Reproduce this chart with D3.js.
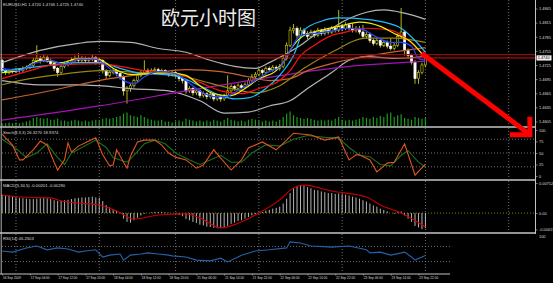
<!DOCTYPE html>
<html>
<head>
<meta charset="utf-8">
<script src="https://cdn.jsdelivr.net/npm/d3@7"></script>
<style>
  html, body { margin: 0; padding: 0; background: #000; }
  svg { display: block; }
</style>
</head>
<body>
<svg id="chart" width="553" height="283"></svg>
<script>
// ---------- data ----------
const symbolTitle = 'EURUSD,H1  1.4720 1.4746 1.4725 1.4740';
const chartTitle = '欧元小时图';

const timeLabels = ['16 Sep 2009', '17 Sep 04:00', '17 Sep 12:00', '17 Sep 20:00', '18 Sep 04:00',
  '18 Sep 12:00', '18 Sep 20:00', '21 Sep 06:00', '21 Sep 14:00', '21 Sep 22:00', '22 Sep 06:00',
  '22 Sep 14:00', '22 Sep 22:00', '23 Sep 06:00', '23 Sep 14:00', '23 Sep 22:00'];
const timeLabelBars = [0, 8, 16, 24, 32, 40, 48, 56, 64, 72, 80, 88, 96, 104, 112, 120];
const dayBreakBars = [4, 28, 50, 74, 98, 122, 146];

const firstOpen = 1.4735;
const closes = [
  1.4713,1.4709,1.4713,1.4711,1.4715,1.4713,1.4718,1.4720,1.4724,1.4735,
  1.4739,1.4735,1.4741,1.4735,1.4728,1.4718,1.4709,1.4722,1.4726,1.4730,
  1.4735,1.4739,1.4735,1.4739,1.4735,1.4737,1.4741,1.4730,1.4735,1.4713,
  1.4703,1.4709,1.4713,1.4707,1.4700,1.4670,1.4675,1.4681,1.4692,1.4703,
  1.4709,1.4713,1.4709,1.4713,1.4715,1.4711,1.4713,1.4709,1.4705,1.4709,
  1.4703,1.4696,1.4692,1.4670,1.4675,1.4666,1.4670,1.4660,1.4664,1.4658,
  1.4662,1.4653,1.4658,1.4653,1.4660,1.4670,1.4679,1.4675,1.4681,1.4677,
  1.4683,1.4692,1.4700,1.4705,1.4713,1.4709,1.4718,1.4715,1.4720,1.4718,
  1.4722,1.4739,1.4767,1.4799,1.4803,1.4788,1.4799,1.4792,1.4786,1.4795,
  1.4788,1.4799,1.4792,1.4799,1.4795,1.4803,1.4799,1.4807,1.4803,1.4810,
  1.4803,1.4799,1.4803,1.4795,1.4786,1.4790,1.4777,1.4771,1.4777,1.4767,
  1.4773,1.4765,1.4760,1.4767,1.4786,1.4795,1.4756,1.4745,1.4730,1.4696,
  1.4709,1.4725,1.4740];
const highs = [
  1.4738,1.4716,1.4717,1.4716,1.4719,1.4718,1.4722,1.4724,1.4728,1.4740,
  1.4767,1.4744,1.4748,1.4745,1.4739,1.4731,1.4721,1.4726,1.4731,1.4735,
  1.4741,1.4745,1.4750,1.4744,1.4743,1.4742,1.4746,1.4744,1.4740,1.4737,
  1.4716,1.4713,1.4718,1.4716,1.4711,1.4703,1.4680,1.4686,1.4696,1.4707,
  1.4714,1.4735,1.4718,1.4718,1.4720,1.4719,1.4717,1.4716,1.4712,1.4713,
  1.4712,1.4706,1.4700,1.4695,1.4680,1.4678,1.4675,1.4673,1.4669,1.4667,
  1.4667,1.4665,1.4662,1.4661,1.4664,1.4703,1.4684,1.4683,1.4686,1.4685,
  1.4688,1.4697,1.4706,1.4710,1.4718,1.4717,1.4722,1.4722,1.4725,1.4724,
  1.4727,1.4744,1.4773,1.4806,1.4812,1.4807,1.4805,1.4803,1.4797,1.4800,
  1.4799,1.4804,1.4802,1.4805,1.4803,1.4808,1.4807,1.4842,1.4812,1.4816,
  1.4814,1.4814,1.4808,1.4808,1.4810,1.4795,1.4794,1.4781,1.4782,1.4780,
  1.4778,1.4777,1.4782,1.4772,1.4792,1.4846,1.4799,1.4760,1.4749,1.4735,
  1.4714,1.4730,1.4746];
const lows = [
  1.4708,1.4704,1.4705,1.4707,1.4708,1.4709,1.4710,1.4714,1.4716,1.4721,
  1.4731,1.4728,1.4731,1.4730,1.4724,1.4712,1.4700,1.4705,1.4718,1.4722,
  1.4727,1.4731,1.4730,1.4731,1.4729,1.4730,1.4733,1.4726,1.4726,1.4707,
  1.4696,1.4699,1.4705,1.4701,1.4694,1.4660,1.4643,1.4668,1.4677,1.4688,
  1.4699,1.4704,1.4703,1.4705,1.4708,1.4706,1.4707,1.4704,1.4700,1.4701,
  1.4698,1.4690,1.4686,1.4664,1.4666,1.4660,1.4661,1.4655,1.4656,1.4652,
  1.4654,1.4648,1.4649,1.4647,1.4649,1.4656,1.4666,1.4670,1.4671,1.4673,
  1.4674,1.4679,1.4688,1.4696,1.4701,1.4704,1.4705,1.4710,1.4711,1.4713,
  1.4713,1.4718,1.4735,1.4763,1.4792,1.4782,1.4784,1.4786,1.4780,1.4782,
  1.4783,1.4785,1.4787,1.4788,1.4790,1.4791,1.4794,1.4795,1.4797,1.4799,
  1.4798,1.4794,1.4794,1.4790,1.4782,1.4781,1.4772,1.4766,1.4767,1.4762,
  1.4763,1.4760,1.4756,1.4756,1.4763,1.4782,1.4745,1.4739,1.4726,1.4685,
  1.4685,1.4705,1.4720];
const volumes = [
  300,300,400,300,400,300,400,500,600,
  900,1000,900,800,900,700,
  700,800,600,600,500,600,700,600,
  500,600,500,600,700,600,
  800,900,800,900,1000,1100,
  1400,1500,1200,1100,1000,1200,1000,
  800,700,600,600,700,500,500,400,
  500,600,500,800,700,600,500,600,500,
  600,500,700,600,500,700,900,700,
  600,500,600,500,700,800,700,600,500,600,500,600,500,700,
  1000,1400,1600,1200,1000,900,800,900,800,700,
  600,700,600,700,600,800,1000,700,600,700,600,700,800,
  1000,900,800,1000,900,1100,1000,1400,1500,1000,
  1200,1300,900,800,700,1000,900,800,900];

// moving averages / bands: [bar, price]
const maBlue = [[0,1.4718],[5,1.4713],[9,1.4728],[14,1.4735],[18,1.4726],[22,1.4737],[27,1.4737],[30,1.4724],
  [32,1.4711],[35,1.4692],[38,1.4685],[41,1.4700],[45,1.4711],[50,1.4707],[53,1.4692],[57,1.4670],[61,1.4658],
  [64,1.4658],[69,1.4675],[73,1.4692],[77,1.4711],[80,1.4720],[83,1.4756],[86,1.4788],[90,1.4792],[95,1.4797],
  [99,1.4803],[103,1.4803],[107,1.4788],[112,1.4773],[115,1.4773],[118,1.4765],[120,1.4739],[122,1.4735]];
const maYellow = [[0,1.4709],[5,1.4713],[11,1.4735],[17,1.4730],[22,1.4739],[28,1.4737],[32,1.4718],[37,1.4705],
  [43,1.4707],[48,1.4709],[53,1.4703],[57,1.4681],[61,1.4664],[66,1.4660],[70,1.4675],[74,1.4696],[79,1.4713],
  [81,1.4730],[84,1.4767],[87,1.4788],[92,1.4799],[97,1.4807],[103,1.4816],[109,1.4807],[113,1.4792],[118,1.4773],
  [122,1.4739]];
const maCyan = [[0,1.4713],[11,1.4722],[22,1.4730],[28,1.4730],[34,1.4718],[40,1.4707],[46,1.4705],[51,1.4700],
  [57,1.4681],[63,1.4660],[67,1.4653],[71,1.4655],[76,1.4675],[80,1.4703],[84,1.4745],[87,1.4799],[92,1.4818],
  [97,1.4825],[105,1.4822],[110,1.4816],[115,1.4803],[119,1.4777],[122,1.4752]];
const maRed = [[0,1.4696],[8,1.4713],[14,1.4724],[28,1.4728],[34,1.4722],[41,1.4713],[50,1.4707],[57,1.4688],
  [63,1.4670],[69,1.4664],[74,1.4675],[80,1.4692],[83,1.4713],[86,1.4745],[90,1.4767],[95,1.4788],[99,1.4795],
  [105,1.4803],[112,1.4799],[116,1.4784],[122,1.4741]];
const maOlive = [[0,1.4683],[8,1.4696],[17,1.4705],[28,1.4713],[40,1.4709],[50,1.4705],[57,1.4692],[66,1.4675],
  [73,1.4666],[80,1.4681],[87,1.4718],[95,1.4752],[105,1.4782],[113,1.4782],[122,1.4773]];
const maOrange = [[0,1.4651],[11,1.4666],[22,1.4683],[31,1.4696],[43,1.4707],[53,1.4715],[63,1.4711],[71,1.4700],
  [77,1.4692],[83,1.4696],[88,1.4713],[96,1.4730],[103,1.4741],[112,1.4752],[122,1.4762]];
const maPurple = [[0,1.4608],[28,1.4638],[53,1.4670],[71,1.4692],[86,1.4709],[103,1.4724],[115,1.4730],[122,1.4733]];
const bandUpper = [[0,1.4730],[11,1.4756],[22,1.4771],[28,1.4775],[37,1.4773],[45,1.4760],[53,1.4752],[60,1.4735],
  [67,1.4722],[73,1.4718],[77,1.4730],[81,1.4745],[86,1.4767],[90,1.4788],[95,1.4803],[99,1.4820],[105,1.4837],
  [110,1.4842],[116,1.4835],[122,1.4822]];
const bandLower = [[0,1.4692],[11,1.4683],[22,1.4683],[28,1.4681],[37,1.4675],[48,1.4670],[57,1.4649],[64,1.4623],
  [71,1.4625],[77,1.4638],[83,1.4649],[88,1.4675],[95,1.4709],[100,1.4735],[105,1.4743],[113,1.4739],[122,1.4743]];

// stochastic: [bar, value]
const stochMain = [[0,91],[3,67],[5,35],[6,35],[9,57],[11,76],[13,67],[15,30],[16,13],[18,35],[19,72],[20,52],
  [22,65],[25,76],[27,83],[29,46],[31,22],[32,24],[33,57],[35,30],[36,17],[37,43],[39,74],[41,78],[44,78],[46,67],
  [48,50],[50,41],[53,35],[56,17],[58,24],[61,57],[63,39],[66,13],[69,35],[71,61],[75,74],[79,57],[82,78],[84,93],
  [89,89],[93,78],[97,85],[100,35],[102,46],[103,46],[106,35],[108,9],[111,28],[113,30],[116,70],[119,2],[122,26]];
const stochSignal = [[0,80],[4,60],[7,40],[10,50],[13,70],[16,40],[18,25],[20,50],[23,62],[27,78],[30,62],[32,40],
  [34,35],[36,30],[38,45],[41,70],[44,78],[47,70],[50,50],[54,35],[57,25],[60,35],[63,45],[66,30],[69,30],[72,50],
  [76,68],[80,65],[84,80],[88,88],[93,84],[97,82],[100,62],[103,45],[106,42],[109,25],[112,22],[115,45],[117,55],
  [120,30],[122,19]];

// MACD histogram per bar, signal as [bar, value]
const macdHist = [
  0.0046,0.0045,0.0044,0.0042,0.0040,0.0038,
  0.0037,0.0036,0.0035,0.0035,0.0036,0.0037,0.0038,
  0.0037,0.0035,0.0032,0.0030,0.0031,0.0032,0.0033,0.0035,
  0.0037,0.0038,0.0039,0.0039,0.0040,0.0041,0.0039,0.0038,
  0.0030,0.0020,0.0014,0.0010,0.0006,0.0002,
  -0.0014,-0.0022,-0.0024,-0.0018,-0.0012,-0.0006,-0.0002,
  0.0000,0.0002,0.0003,0.0003,0.0003,0.0002,0.0001,0.0000,-0.0002,-0.0005,-0.0008,
  -0.0015,-0.0018,-0.0022,-0.0025,-0.0029,-0.0031,-0.0034,-0.0035,-0.0037,-0.0038,-0.0037,-0.0036,
  -0.0032,-0.0027,-0.0024,-0.0020,-0.0018,-0.0014,-0.0010,-0.0006,-0.0003,0.0001,0.0003,
  0.0006,0.0008,0.0011,0.0013,0.0016,0.0024,0.0036,0.0050,0.0062,
  0.0068,0.0070,0.0068,0.0065,0.0062,0.0058,0.0057,0.0054,
  0.0052,0.0050,0.0050,0.0048,0.0049,0.0047,0.0046,0.0044,0.0041,0.0039,0.0036,
  0.0032,0.0029,0.0024,0.0019,0.0016,0.0011,0.0008,0.0004,0.0000,-0.0002,
  0.0002,0.0004,-0.0006,-0.0014,-0.0022,-0.0032,-0.0036,-0.0040,-0.0038];
const macdSignal = [[0,0.0045],[5,0.0040],[14,0.0038],[17,0.0030],[22,0.0025],[28,0.0020],[33,0.0005],
  [38,-0.0015],[45,-0.0005],[53,-0.0002],[57,-0.0012],[63,-0.0037],[69,-0.0022],[74,0.0000],[80,0.0033],
  [84,0.0063],[87,0.0070],[95,0.0055],[105,0.0040],[109,0.0020],[115,0.0000],[122,-0.0035]];

// RSI: [bar, value]
const rsiLine = [[0,58],[3,55],[7,66],[10,71],[13,61],[16,66],[19,63],[22,55],[24,58],[27,61],[29,42],[31,47],
  [34,50],[35,34],[37,47],[40,50],[42,53],[45,50],[48,47],[49,45],[53,42],[56,34],[60,32],[63,39],[65,29],[69,47],
  [73,58],[77,61],[82,66],[83,82],[86,79],[89,71],[95,68],[100,71],[105,61],[106,53],[109,55],[112,47],[116,55],
  [118,42],[119,34],[122,46]];

const priceTicks = [1.4605, 1.4635, 1.4665, 1.4695, 1.4725, 1.4755, 1.4785, 1.4815, 1.4845];
const stochTicks = [0, 25, 50, 75, 100];
const stochLevels = [20, 50, 80];
const macdTicks = [-0.00411, 0, 0.00752];
const rsiLevels = [30, 70];
const bidPrice = 1.4740;
const markPrice = 1.4747;
const arrowFrom = [120.9, 1.4750];
const arrowTo = [152.1, 1.4577];

// ---------- layout ----------
const svg = d3.select('#chart');
const axisX = 535.5;
const rsiRight = 450;
const panels = {
  main:  { top: 0,   bottom: 126.5 },
  stoch: { top: 128, bottom: 179 },
  macd:  { top: 181, bottom: 232 },
  rsi:   { top: 234, bottom: 273 }
};
const font = 'Liberation Sans, Arial, sans-serif';
const gridColour = '#8c8c8c';

const x = d3.scaleLinear().domain([0, 146]).range([2.1, 508.7]);
const yMain = d3.scaleLinear().domain([1.4605, 1.4845]).range([121.5, 8.5]);
const yVol = d3.scaleLinear().domain([0, 2000]).range([126, 108]);
const yStoch = d3.scaleLinear().domain([0, 100]).range([176, 130]);
const yMacd = d3.scaleLinear().domain([-0.00411, 0.00752]).range([229.5, 183]);
const yRsi = d3.scaleLinear().domain([0, 100]).range([273, 235]);

svg.append('rect').attr('width', 553).attr('height', 283).attr('fill', '#000');

const defs = svg.append('defs');
Object.entries(panels).forEach(([key, p]) => {
  defs.append('clipPath').attr('id', 'clip-' + key)
    .append('rect').attr('x', 0).attr('y', p.top)
    .attr('width', key === 'rsi' ? rsiRight : axisX).attr('height', p.bottom - p.top);
});
const layer = key => svg.append('g').attr('clip-path', `url(#clip-${key})`);

// vertical day grid
Object.entries(panels).forEach(([key, p]) => {
  layer(key).selectAll('line').data(dayBreakBars).join('line')
    .attr('x1', d => x(d)).attr('x2', d => x(d))
    .attr('y1', p.top).attr('y2', p.bottom)
    .attr('stroke', gridColour).attr('stroke-width', 0.8).attr('stroke-dasharray', '1,2');
});

// ---------- main panel ----------
const gMain = layer('main');

gMain.selectAll('line.vol').data(volumes).join('line').attr('class', 'vol')
  .attr('x1', (d, i) => x(i)).attr('x2', (d, i) => x(i))
  .attr('y1', yVol(0)).attr('y2', d => yVol(d))
  .attr('stroke', '#1f9a1f').attr('stroke-width', 1.2);

const candles = closes.map((c, i) => ({
  i, o: i === 0 ? firstOpen : closes[i - 1], c, h: highs[i], l: lows[i]
}));
const candleColour = '#cccc10';
gMain.selectAll('line.wick').data(candles).join('line').attr('class', 'wick')
  .attr('x1', d => x(d.i)).attr('x2', d => x(d.i))
  .attr('y1', d => yMain(d.h)).attr('y2', d => yMain(d.l))
  .attr('stroke', candleColour).attr('stroke-width', 0.9);
gMain.selectAll('rect.body').data(candles).join('rect').attr('class', 'body')
  .attr('x', d => x(d.i) - 1.1).attr('width', 2.2)
  .attr('y', d => yMain(Math.max(d.o, d.c)))
  .attr('height', d => Math.max(0.8, Math.abs(yMain(d.o) - yMain(d.c))))
  .attr('fill', d => d.c < d.o ? '#ffffff' : '#000')
  .attr('stroke', d => d.c < d.o ? '#ffffff' : candleColour)
  .attr('stroke-width', 0.6);

const mainLine = d3.line().x(d => x(d[0])).y(d => yMain(d[1])).curve(d3.curveMonotoneX);
const maSeries = [
  { data: bandUpper, colour: '#b4b4b4' },
  { data: bandLower, colour: '#b4b4b4' },
  { data: maPurple, colour: '#a512b4' },
  { data: maOrange, colour: '#c8642d' },
  { data: maOlive, colour: '#9a8410' },
  { data: maCyan, colour: '#1ebeff' },
  { data: maRed, colour: '#ff1010' },
  { data: maYellow, colour: '#f0f000' },
  { data: maBlue, colour: '#2346ff' }
];
gMain.selectAll('path.ma').data(maSeries).join('path').attr('class', 'ma')
  .attr('d', d => mainLine(d.data))
  .attr('fill', 'none').attr('stroke', d => d.colour).attr('stroke-width', 1.2);

svg.append('line').attr('x1', 0).attr('x2', axisX)
  .attr('y1', yMain(markPrice)).attr('y2', yMain(markPrice))
  .attr('stroke', '#8a1010').attr('stroke-width', 1.2);
svg.append('line').attr('x1', 0).attr('x2', axisX)
  .attr('y1', yMain(bidPrice)).attr('y2', yMain(bidPrice))
  .attr('stroke', '#d01010').attr('stroke-width', 1);

// ---------- stochastic ----------
const gStoch = layer('stoch');
gStoch.selectAll('line.lvl').data(stochLevels).join('line').attr('class', 'lvl')
  .attr('x1', 2).attr('x2', axisX).attr('y1', d => yStoch(d)).attr('y2', d => yStoch(d))
  .attr('stroke', gridColour).attr('stroke-width', 0.8).attr('stroke-dasharray', '1,2');
const stochLine = d3.line().x(d => x(d[0])).y(d => yStoch(d[1]));
gStoch.append('path').attr('d', stochLine(stochSignal))
  .attr('fill', 'none').attr('stroke', '#1c6e1c').attr('stroke-width', 1.1);
gStoch.append('path').attr('d', stochLine(stochMain))
  .attr('fill', 'none').attr('stroke', '#e0561e').attr('stroke-width', 1.1);

// ---------- MACD ----------
const gMacd = layer('macd');
gMacd.append('line').attr('x1', 2).attr('x2', axisX)
  .attr('y1', yMacd(0)).attr('y2', yMacd(0))
  .attr('stroke', '#a0a000').attr('stroke-width', 0.8).attr('stroke-dasharray', '1,2');
gMacd.selectAll('line.hist').data(macdHist).join('line').attr('class', 'hist')
  .attr('x1', (d, i) => x(i)).attr('x2', (d, i) => x(i))
  .attr('y1', yMacd(0)).attr('y2', d => yMacd(d))
  .attr('stroke', '#c8c8c8').attr('stroke-width', 0.9);
gMacd.append('path')
  .attr('d', d3.line().x(d => x(d[0])).y(d => yMacd(d[1])).curve(d3.curveMonotoneX)(macdSignal))
  .attr('fill', 'none').attr('stroke', '#c80000').attr('stroke-width', 1.1);

// ---------- RSI ----------
const gRsi = layer('rsi');
gRsi.selectAll('line.lvl').data(rsiLevels).join('line').attr('class', 'lvl')
  .attr('x1', 2).attr('x2', rsiRight).attr('y1', d => yRsi(d)).attr('y2', d => yRsi(d))
  .attr('stroke', gridColour).attr('stroke-width', 0.8).attr('stroke-dasharray', '1,2');
gRsi.append('path')
  .attr('d', d3.line().x(d => x(d[0])).y(d => yRsi(d[1]))(rsiLine))
  .attr('fill', 'none').attr('stroke', '#2462aa').attr('stroke-width', 1.1);

// ---------- frames ----------
const frame = '#c4c4c4';
[127, 180, 233].forEach(y => {
  svg.append('line').attr('x1', 0).attr('x2', axisX).attr('y1', y).attr('y2', y)
    .attr('stroke', frame).attr('stroke-width', 1.6);
});
svg.append('line').attr('x1', 0).attr('x2', rsiRight).attr('y1', 274).attr('y2', 274)
  .attr('stroke', frame).attr('stroke-width', 1.2);
svg.append('line').attr('x1', 1.2).attr('x2', 1.2).attr('y1', 0).attr('y2', 274)
  .attr('stroke', frame).attr('stroke-width', 0.9);
svg.append('line').attr('x1', axisX).attr('x2', axisX).attr('y1', 0).attr('y2', 234)
  .attr('stroke', frame).attr('stroke-width', 1);

// ---------- axes ----------
const styleAxis = (g, size) => {
  g.select('.domain').remove();
  g.selectAll('line').attr('stroke', frame).attr('stroke-width', 0.6);
  g.selectAll('text').attr('fill', '#dcdcdc').attr('font-size', size).attr('font-family', font);
};
svg.append('g').attr('transform', `translate(${axisX},0)`)
  .call(d3.axisRight(yMain).tickValues(priceTicks).tickSize(2).tickPadding(1.5).tickFormat(d3.format('.4f')))
  .call(g => styleAxis(g, 3.9));
svg.append('g').attr('transform', `translate(${axisX},0)`)
  .call(d3.axisRight(yStoch).tickValues(stochTicks).tickSize(2).tickPadding(1.5))
  .call(g => styleAxis(g, 3.9));
svg.append('g').attr('transform', `translate(${axisX},0)`)
  .call(d3.axisRight(yMacd).tickValues(macdTicks).tickSize(2).tickPadding(1.5)
    .tickFormat(d => d === 0 ? '0.00' : d.toFixed(5)))
  .call(g => styleAxis(g, 3.9));
svg.append('text').attr('x', axisX + 3.5).attr('y', 237.5).text('100')
  .attr('fill', '#dcdcdc').attr('font-size', 3.9).attr('font-family', font);

// current price box
const bidY = yMain(bidPrice);
svg.append('rect').attr('x', axisX + 1).attr('y', bidY - 2.6).attr('width', 15).attr('height', 5.2)
  .attr('fill', '#f0f0f0');
svg.append('text').attr('x', axisX + 2.2).attr('y', bidY + 1.4).text(bidPrice.toFixed(4))
  .attr('fill', '#000').attr('font-size', 3.9).attr('font-family', font);

// time axis
svg.append('g').attr('transform', 'translate(0,274)')
  .call(d3.axisBottom(x).tickValues(timeLabelBars).tickSize(1.5).tickPadding(1.2)
    .tickFormat((d, i) => timeLabels[i]))
  .call(g => styleAxis(g, 3.2))
  .call(g => g.selectAll('text').attr('text-anchor', 'start').attr('dx', 0.3));

// ---------- panel captions ----------
const caption = (txt, y) => svg.append('text').attr('x', 3).attr('y', y).text(txt)
  .attr('fill', '#dcdcdc').attr('font-size', 4.2).attr('font-family', font);
caption(symbolTitle, 5.5);
caption('Stoch(8,3,3) 26.3270 18.9374', 133.5);
caption('MACD(5,34,5) -0.00201 -0.00290', 186.5);
caption('RSI(14) 46.2503', 239.5);

svg.append('text').attr('x', 161).attr('y', 25).text(chartTitle)
  .attr('fill', '#ececec').attr('font-size', 19)
  .attr('font-family', 'Noto Sans CJK SC, sans-serif');

// ---------- annotation arrow ----------
const ax0 = x(arrowFrom[0]), ay0 = yMain(arrowFrom[1]);
const ax1 = x(arrowTo[0]), ay1 = yMain(arrowTo[1]);
svg.append('line').attr('x1', ax0).attr('y1', ay0).attr('x2', ax1 - 1.5).attr('y2', ay1 - 1.2)
  .attr('stroke', '#ff0000').attr('stroke-width', 5);
svg.append('path')
  .attr('d', `M${ax1 - 20},${ay1} L${ax1},${ay1} L${ax1},${ay1 - 18}`)
  .attr('fill', 'none').attr('stroke', '#ff0000').attr('stroke-width', 5)
  .attr('stroke-linejoin', 'miter');
</script>
</body>
</html>
